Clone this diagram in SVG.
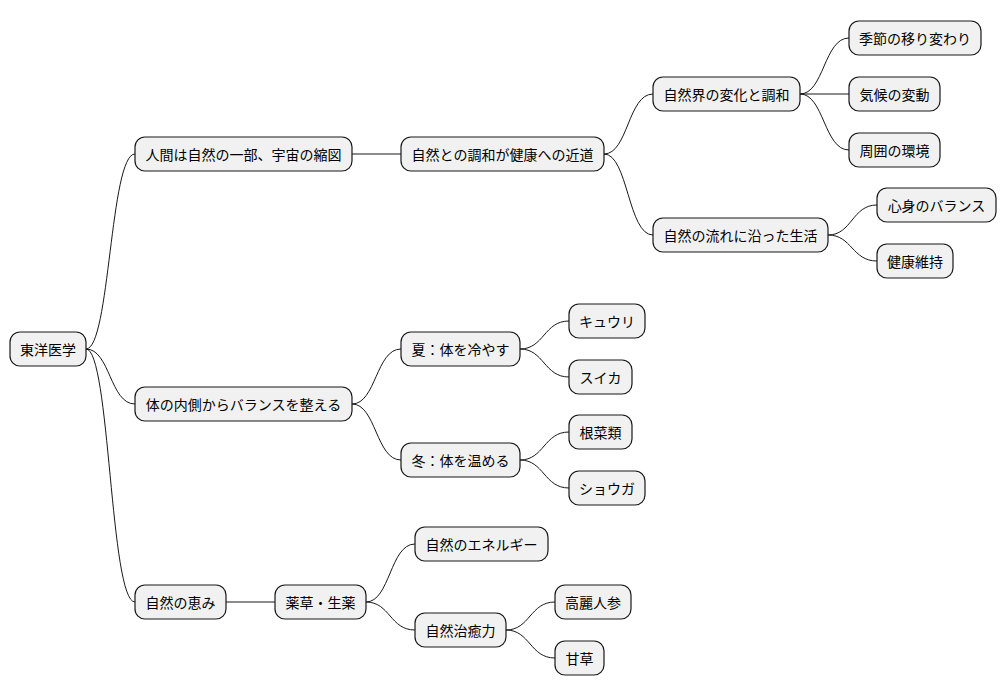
<svg xmlns="http://www.w3.org/2000/svg" width="1006" height="696" viewBox="0 0 1006 696">
<style>
rect{fill:#f1f1f1;stroke:#181818;stroke-width:1.2}
text{font-family:"Noto Sans CJK JP","Noto Sans",sans-serif;font-size:14px;fill:#000;text-anchor:middle;dominant-baseline:central}
.c path{fill:none;stroke:#181818;stroke-width:1}
</style>
<rect width="1006" height="696" style="fill:#fff;stroke:none"/>
<g class="c">
<path d="M86 349 C110 349 110 154 135 154"/>
<path d="M86 349 C110 349 110 404 135 404"/>
<path d="M86 349 C110 349 110 602 135 602"/>
<path d="M352 154 L401 154"/>
<path d="M352 404 C376 404 376 349 401 349"/>
<path d="M352 404 C376 404 376 460 401 460"/>
<path d="M226 602 L275 602"/>
<path d="M604 154 C628 154 628 94 653 94"/>
<path d="M604 154 C628 154 628 235 653 235"/>
<path d="M800 94 C824 94 824 38 849 38"/>
<path d="M800 94 L849 94"/>
<path d="M800 94 C824 94 824 150 849 150"/>
<path d="M828 235 C852 235 852 205 877 205"/>
<path d="M828 235 C852 235 852 261 877 261"/>
<path d="M520 349 C544 349 544 321 569 321"/>
<path d="M520 349 C544 349 544 377 569 377"/>
<path d="M520 460 C544 460 544 432 569 432"/>
<path d="M520 460 C544 460 544 488 569 488"/>
<path d="M366 602 C390 602 390 544 415 544"/>
<path d="M366 602 C390 602 390 630 415 630"/>
<path d="M506 630 C530 630 530 602 555 602"/>
<path d="M506 630 C530 630 530 658 555 658"/>
</g>
<g id="n0"><rect x="10" y="332" width="76" height="34" rx="10"/><text x="48" y="349">東洋医学</text></g>
<g id="n1"><rect x="135" y="137" width="217" height="34" rx="10"/><text x="243.5" y="154">人間は自然の一部、宇宙の縮図</text></g>
<g id="n2"><rect x="135" y="387" width="217" height="34" rx="10"/><text x="243.5" y="404">体の内側からバランスを整える</text></g>
<g id="n3"><rect x="135" y="585" width="91" height="34" rx="10"/><text x="180.5" y="602">自然の恵み</text></g>
<g id="n4"><rect x="401" y="137" width="203" height="34" rx="10"/><text x="502.5" y="154">自然との調和が健康への近道</text></g>
<g id="n5"><rect x="401" y="332" width="119" height="34" rx="10"/><text x="460.5" y="349">夏：体を冷やす</text></g>
<g id="n6"><rect x="401" y="443" width="119" height="34" rx="10"/><text x="460.5" y="460">冬：体を温める</text></g>
<g id="n7"><rect x="275" y="585" width="91" height="34" rx="10"/><text x="320.5" y="602">薬草・生薬</text></g>
<g id="n8"><rect x="653" y="77" width="147" height="34" rx="10"/><text x="726.5" y="94">自然界の変化と調和</text></g>
<g id="n9"><rect x="653" y="218" width="175" height="34" rx="10"/><text x="740.5" y="235">自然の流れに沿った生活</text></g>
<g id="n10"><rect x="569" y="304" width="76" height="34" rx="10"/><text x="607" y="321">キュウリ</text></g>
<g id="n11"><rect x="569" y="360" width="63" height="34" rx="10"/><text x="600.5" y="377">スイカ</text></g>
<g id="n12"><rect x="569" y="415" width="63" height="34" rx="10"/><text x="600.5" y="432">根菜類</text></g>
<g id="n13"><rect x="569" y="471" width="76" height="34" rx="10"/><text x="607" y="488">ショウガ</text></g>
<g id="n14"><rect x="415" y="527" width="133" height="34" rx="10"/><text x="481.5" y="544">自然のエネルギー</text></g>
<g id="n15"><rect x="415" y="613" width="91" height="34" rx="10"/><text x="460.5" y="630">自然治癒力</text></g>
<g id="n16"><rect x="849" y="21" width="132" height="34" rx="10"/><text x="915" y="38">季節の移り変わり</text></g>
<g id="n17"><rect x="849" y="77" width="91" height="34" rx="10"/><text x="894.5" y="94">気候の変動</text></g>
<g id="n18"><rect x="849" y="133" width="91" height="34" rx="10"/><text x="894.5" y="150">周囲の環境</text></g>
<g id="n19"><rect x="877" y="188" width="119" height="34" rx="10"/><text x="936.5" y="205">心身のバランス</text></g>
<g id="n20"><rect x="877" y="244" width="76" height="34" rx="10"/><text x="915" y="261">健康維持</text></g>
<g id="n21"><rect x="555" y="585" width="76" height="34" rx="10"/><text x="593" y="602">高麗人参</text></g>
<g id="n22"><rect x="555" y="641" width="49" height="34" rx="10"/><text x="579.5" y="658">甘草</text></g>
</svg>
